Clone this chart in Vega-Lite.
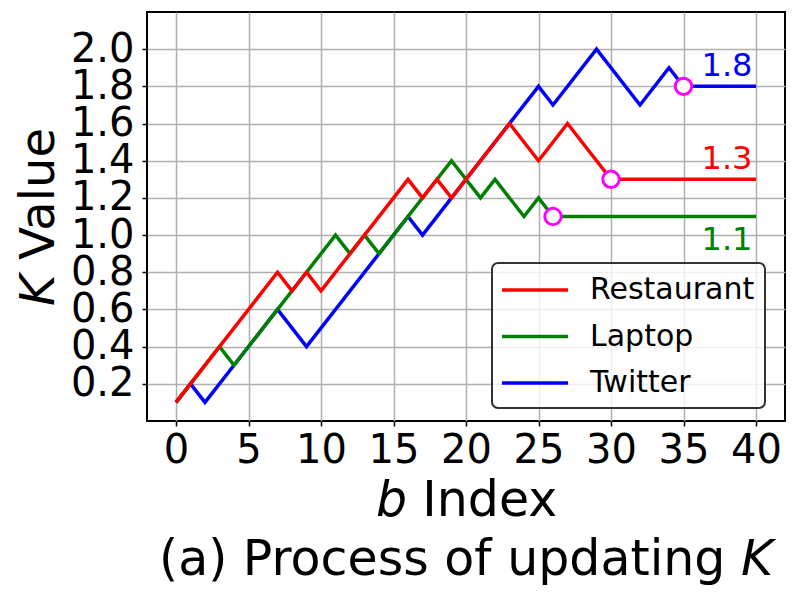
{
  "$schema": "https://vega.github.io/schema/vega-lite/v6.json",
  "description": "Process of updating K over the b index for three datasets.",
  "autosize": {"type": "none"},
  "padding": {"left": 147, "top": 12, "right": 15, "bottom": 167},
  "width": 638,
  "height": 409,
  "background": "white",
  "config": {
    "font": "DejaVu Sans",
    "view": {"stroke": "black", "strokeWidth": 2},
    "axis": {
      "labelFont": "DejaVu Sans",
      "titleFont": "DejaVu Sans",
      "labelColor": "black",
      "titleColor": "black",
      "titleFontWeight": "normal",
      "labelOverlap": false,
      "domain": false,
      "tickColor": "black",
      "tickSize": 5,
      "tickWidth": 1.5,
      "gridColor": "#b0b0b0",
      "gridWidth": 1.5,
      "gridOpacity": 1
    }
  },
  "title": {
    "text": "(a) Process of updating 𝘒",
    "orient": "bottom",
    "anchor": "middle",
    "fontSize": 49,
    "fontWeight": "normal",
    "font": "DejaVu Sans",
    "color": "black",
    "offset": 11
  },
  "datasets": {
    "k": [
      {"dataset": "Twitter", "b": 0, "k": 0.1},
      {"dataset": "Twitter", "b": 1, "k": 0.2},
      {"dataset": "Twitter", "b": 2, "k": 0.1},
      {"dataset": "Twitter", "b": 7, "k": 0.6},
      {"dataset": "Twitter", "b": 9, "k": 0.4},
      {"dataset": "Twitter", "b": 16, "k": 1.1},
      {"dataset": "Twitter", "b": 17, "k": 1.0},
      {"dataset": "Twitter", "b": 25, "k": 1.8},
      {"dataset": "Twitter", "b": 26, "k": 1.7},
      {"dataset": "Twitter", "b": 29, "k": 2.0},
      {"dataset": "Twitter", "b": 32, "k": 1.7},
      {"dataset": "Twitter", "b": 34, "k": 1.9},
      {"dataset": "Twitter", "b": 35, "k": 1.8},
      {"dataset": "Twitter", "b": 40, "k": 1.8},
      {"dataset": "Laptop", "b": 0, "k": 0.1},
      {"dataset": "Laptop", "b": 3, "k": 0.4},
      {"dataset": "Laptop", "b": 4, "k": 0.3},
      {"dataset": "Laptop", "b": 11, "k": 1.0},
      {"dataset": "Laptop", "b": 12, "k": 0.9},
      {"dataset": "Laptop", "b": 13, "k": 1.0},
      {"dataset": "Laptop", "b": 14, "k": 0.9},
      {"dataset": "Laptop", "b": 19, "k": 1.4},
      {"dataset": "Laptop", "b": 21, "k": 1.2},
      {"dataset": "Laptop", "b": 22, "k": 1.3},
      {"dataset": "Laptop", "b": 24, "k": 1.1},
      {"dataset": "Laptop", "b": 25, "k": 1.2},
      {"dataset": "Laptop", "b": 26, "k": 1.1},
      {"dataset": "Laptop", "b": 40, "k": 1.1},
      {"dataset": "Restaurant", "b": 0, "k": 0.1},
      {"dataset": "Restaurant", "b": 7, "k": 0.8},
      {"dataset": "Restaurant", "b": 8, "k": 0.7},
      {"dataset": "Restaurant", "b": 9, "k": 0.8},
      {"dataset": "Restaurant", "b": 10, "k": 0.7},
      {"dataset": "Restaurant", "b": 16, "k": 1.3},
      {"dataset": "Restaurant", "b": 17, "k": 1.2},
      {"dataset": "Restaurant", "b": 18, "k": 1.3},
      {"dataset": "Restaurant", "b": 19, "k": 1.2},
      {"dataset": "Restaurant", "b": 23, "k": 1.6},
      {"dataset": "Restaurant", "b": 25, "k": 1.4},
      {"dataset": "Restaurant", "b": 27, "k": 1.6},
      {"dataset": "Restaurant", "b": 30, "k": 1.3},
      {"dataset": "Restaurant", "b": 40, "k": 1.3}
    ],
    "final": [
      {"dataset": "Twitter", "b": 35, "k": 1.8, "label": "1.8", "ly": 1.855},
      {"dataset": "Restaurant", "b": 30, "k": 1.3, "label": "1.3", "ly": 1.357},
      {"dataset": "Laptop", "b": 26, "k": 1.1, "label": "1.1", "ly": 0.918}
    ]
  },
  "encoding": {
    "x": {
      "field": "b",
      "type": "quantitative",
      "scale": {"domain": [-2, 42], "nice": false, "zero": false},
      "axis": {
        "values": [0, 5, 10, 15, 20, 25, 30, 35, 40],
        "labelFontSize": 40,
        "labelPadding": 4,
        "title": "𝘣 Index",
        "titleFontSize": 49,
        "titleX": 319,
        "titleY": 94,
        "titleBaseline": "alphabetic",
        "titleAlign": "center"
      }
    },
    "y": {
      "field": "k",
      "type": "quantitative",
      "scale": {"domain": [0, 2.2], "nice": false, "zero": false},
      "axis": {
        "values": [0.2, 0.4, 0.6, 0.8, 1.0, 1.2, 1.4, 1.6, 1.8, 2.0],
        "format": ".1f",
        "labelFontSize": 40,
        "labelPadding": 8,
        "title": "𝘒 Value",
        "titleFontSize": 48,
        "titleX": -94,
        "titleY": 204.5,
        "titleBaseline": "alphabetic",
        "titleAlign": "center",
        "titleAngle": -90
      }
    }
  },
  "layer": [
    {
      "data": {"name": "k"},
      "mark": {"type": "line", "strokeWidth": 3.5},
      "encoding": {
        "color": {
          "field": "dataset",
          "type": "nominal",
          "scale": {"domain": ["Restaurant", "Laptop", "Twitter"], "range": ["#ff0000", "#008000", "#0000ff"]},
          "legend": {
            "title": null,
            "orient": "none",
            "legendX": 345,
            "legendY": 251,
            "symbolType": "M-2.2,0H2.2",
            "symbolSize": 900,
            "symbolStrokeWidth": 3.5,
            "symbolOffset": 16,
            "labelFont": "DejaVu Sans",
            "labelFontSize": 30,
            "labelLimit": 400,
            "labelColor": "black",
            "labelOffset": 38,
            "rowPadding": 14.5,
            "padding": 10,
            "strokeColor": "#333333",
            "cornerRadius": 6,
            "fillColor": "rgba(255,255,255,0.8)",
            "encode": {"legend": {"update": {"strokeWidth": {"value": 2}}}}
          }
        }
      }
    },
    {
      "data": {"name": "final"},
      "mark": {"type": "point", "shape": "circle", "size": 270, "filled": true, "fill": "white", "stroke": "#ff00ff", "strokeWidth": 3, "opacity": 1}
    },
    {
      "data": {"name": "final"},
      "mark": {"type": "text", "fontSize": 32, "align": "center", "baseline": "alphabetic", "font": "DejaVu Sans"},
      "encoding": {
        "x": {"datum": 38, "type": "quantitative"},
        "y": {"field": "ly", "type": "quantitative"},
        "text": {"field": "label"},
        "color": {
          "field": "dataset",
          "type": "nominal",
          "scale": {"domain": ["Restaurant", "Laptop", "Twitter"], "range": ["#ff0000", "#008000", "#0000ff"]},
          "legend": null
        }
      }
    }
  ]
}
